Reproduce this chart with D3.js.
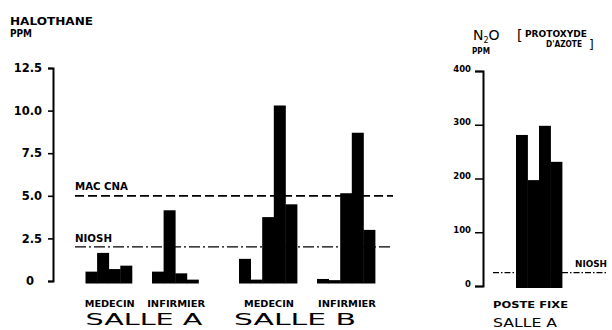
<!DOCTYPE html>
<html><head><meta charset="utf-8">
<script src="https://cdn.jsdelivr.net/npm/d3@7"></script>
<style>
body{margin:0;background:#fff;}
svg{display:block;}
text{font-family:"DejaVu Sans",sans-serif;fill:#000;}
</style></head>
<body>
<svg id="c" width="612" height="330"></svg>
<script>
// ---------- DATA ----------
const halGroups = ["MEDECIN A", "INFIRMIER A", "MEDECIN B", "INFIRMIER B"];
const halLabels = ["MEDECIN", "INFIRMIER", "MEDECIN", "INFIRMIER"];
const halValues = [
  [0.55, 1.65, 0.7, 0.9],
  [0.55, 4.15, 0.45, 0.08],
  [1.3, 0.08, 3.75, 10.3, 4.5],
  [0.12, 0.05, 5.15, 8.7, 3.0]
];
const halTicks = [0, 2.5, 5.0, 7.5, 10.0, 12.5];
const halTickLabels = ["0", "2.5", "5.0", "7.5", "10.0", "12.5"];
const halMAC = 5.0;
const halNIOSH = 2.0;
const rooms = ["SALLE A", "SALLE B"];

const n2oValues = [281, 197, 298, 231];
const n2oTicks = [0, 100, 200, 300, 400];
const n2oNIOSH = 25;

// ---------- LAYOUT ----------
const svg = d3.select("#c");
const barW = 11.6;
const yL = d3.scaleLinear().domain([0, 12.5]).range([281, 68]);
const groupX = d3.scaleOrdinal().domain(halGroups).range([85.5, 152, 239, 317]);
const inner = d3.scaleBand().domain(d3.range(5)).range([0, barW * 5]).padding(0);
const baseDrop = 2.5;

// titles
svg.append("text").attr("x", 10).attr("y", 25).attr("font-size", 11).attr("font-weight", "bold")
  .attr("textLength", 83).attr("lengthAdjust", "spacingAndGlyphs").text("HALOTHANE");
svg.append("text").attr("x", 10).attr("y", 37).attr("font-size", 11).attr("font-weight", "bold")
  .attr("textLength", 22).attr("lengthAdjust", "spacingAndGlyphs").text("PPM");

// left axis
const axL = svg.append("g").attr("transform", "translate(53,0)")
  .call(d3.axisLeft(yL).tickValues(halTicks).tickSize(5).tickSizeOuter(5)
    .tickFormat((d, i) => halTickLabels[i]));
axL.select(".domain").attr("stroke", "#000").attr("stroke-width", 2).attr("fill", "none");
axL.selectAll(".tick line").attr("stroke", "#000").attr("stroke-width", 1.6);
axL.selectAll(".tick text").attr("font-size", 11.5).attr("font-weight", "bold")
  .attr("font-family", "DejaVu Sans").attr("x", -11)
  .attr("dx", d => d === 0 ? -8 : 0);

// reference lines
svg.append("line").attr("x1", 75).attr("x2", 393).attr("y1", yL(halMAC)).attr("y2", yL(halMAC))
  .attr("stroke", "#000").attr("stroke-width", 1.8).attr("stroke-dasharray", "9 4");
svg.append("line").attr("x1", 75).attr("x2", 393).attr("y1", yL(halNIOSH)).attr("y2", yL(halNIOSH))
  .attr("stroke", "#000").attr("stroke-width", 1.4).attr("stroke-dasharray", "11 3 2 3");
svg.append("text").attr("x", 75).attr("y", yL(halMAC) - 6).attr("font-size", 10).attr("font-weight", "bold")
  .attr("textLength", 53).attr("lengthAdjust", "spacingAndGlyphs").text("MAC CNA");
svg.append("text").attr("x", 75).attr("y", yL(halNIOSH) - 5).attr("font-size", 10).attr("font-weight", "bold")
  .attr("textLength", 37).attr("lengthAdjust", "spacingAndGlyphs").text("NIOSH");

// bars
halGroups.forEach((g, gi) => {
  const vals = halValues[gi];
  svg.append("g").selectAll("rect").data(vals).join("rect")
    .attr("x", (d, i) => groupX(g) + inner(i))
    .attr("width", inner.bandwidth() + 0.4)
    .attr("y", d => yL(d))
    .attr("height", d => yL(0) - yL(d) + baseDrop)
    .attr("fill", "#000");
  const cx = groupX(g) + inner(0) + vals.length * inner.bandwidth() / 2;
  svg.append("text").attr("x", cx + 1).attr("y", 307).attr("text-anchor", "middle")
    .attr("font-size", 9.5).attr("font-weight", "bold")
    .attr("textLength", halLabels[gi] === "MEDECIN" ? 50 : 58).attr("lengthAdjust", "spacingAndGlyphs")
    .text(halLabels[gi]);
});

// room labels
const roomCenters = [
  (groupX(halGroups[0]) + groupX(halGroups[1]) + inner(0) + halValues[1].length * barW) / 2 + 2,
  (groupX(halGroups[2]) + groupX(halGroups[3]) + halValues[3].length * barW) / 2 - 12
];
rooms.forEach((r, i) => {
  svg.append("text").attr("x", roomCenters[i]).attr("y", 325).attr("text-anchor", "middle")
    .attr("font-size", 15).attr("font-weight", "normal")
    .attr("textLength", i === 0 ? 117 : 122).attr("lengthAdjust", "spacingAndGlyphs").text(r);
});

// ---------- RIGHT CHART ----------
const yR = d3.scaleLinear().domain([0, 400]).range([286, 71]);
const xR = d3.scaleBand().domain(d3.range(n2oValues.length)).range([516, 516 + 11.5 * n2oValues.length]).padding(0);

// NIOSH line first (bars over it)
svg.append("line").attr("x1", 493).attr("x2", 608).attr("y1", yR(n2oNIOSH)).attr("y2", yR(n2oNIOSH))
  .attr("stroke", "#000").attr("stroke-width", 1.2).attr("stroke-dasharray", "6 2 1.5 2");

const axR = svg.append("g").attr("transform", "translate(483,0)")
  .call(d3.axisLeft(yR).tickValues(n2oTicks).tickSize(8).tickSizeOuter(8));
axR.select(".domain").attr("stroke", "#000").attr("stroke-width", 2).attr("fill", "none");
axR.selectAll(".tick line").attr("stroke", "#000").attr("stroke-width", 1.5);
axR.selectAll(".tick text").attr("font-size", 8.5).attr("font-weight", "bold")
  .attr("font-family", "DejaVu Sans").attr("x", -12).attr("dy", "0");

svg.append("g").selectAll("rect").data(n2oValues).join("rect")
  .attr("x", (d, i) => xR(i)).attr("width", xR.bandwidth() + 0.4)
  .attr("y", d => yR(d)).attr("height", d => yR(0) - yR(d) + 2)
  .attr("fill", "#000");

// right titles
const n2o = svg.append("text").attr("x", 473).attr("y", 40).attr("font-size", 14);
n2o.append("tspan").text("N");
n2o.append("tspan").attr("font-size", 8).attr("dy", 3).text("2");
n2o.append("tspan").attr("dy", -3).text("O");
svg.append("text").attr("x", 472).attr("y", 54).attr("font-size", 9).attr("font-weight", "bold")
  .attr("textLength", 18).attr("lengthAdjust", "spacingAndGlyphs").text("PPM");
svg.append("text").attr("x", 517).attr("y", 40).attr("font-size", 14).text("[");
svg.append("text").attr("x", 525).attr("y", 37).attr("font-size", 9).attr("font-weight", "bold")
  .attr("textLength", 62).attr("lengthAdjust", "spacingAndGlyphs").text("PROTOXYDE");
svg.append("text").attr("x", 546).attr("y", 47).attr("font-size", 9).attr("font-weight", "bold")
  .attr("textLength", 36).attr("lengthAdjust", "spacingAndGlyphs").text("D'AZOTE");
svg.append("text").attr("x", 589).attr("y", 49).attr("font-size", 12).text("]");
svg.append("text").attr("x", 575).attr("y", 267).attr("font-size", 9.5).attr("font-weight", "bold")
  .attr("textLength", 32).attr("lengthAdjust", "spacingAndGlyphs").text("NIOSH");
svg.append("text").attr("x", 493).attr("y", 308).attr("font-size", 9.5).attr("font-weight", "bold")
  .attr("textLength", 75).attr("lengthAdjust", "spacingAndGlyphs").text("POSTE FIXE");
svg.append("text").attr("x", 493).attr("y", 327).attr("font-size", 12)
  .attr("textLength", 64).attr("lengthAdjust", "spacingAndGlyphs").text(rooms[0]);
</script>
</body></html>
